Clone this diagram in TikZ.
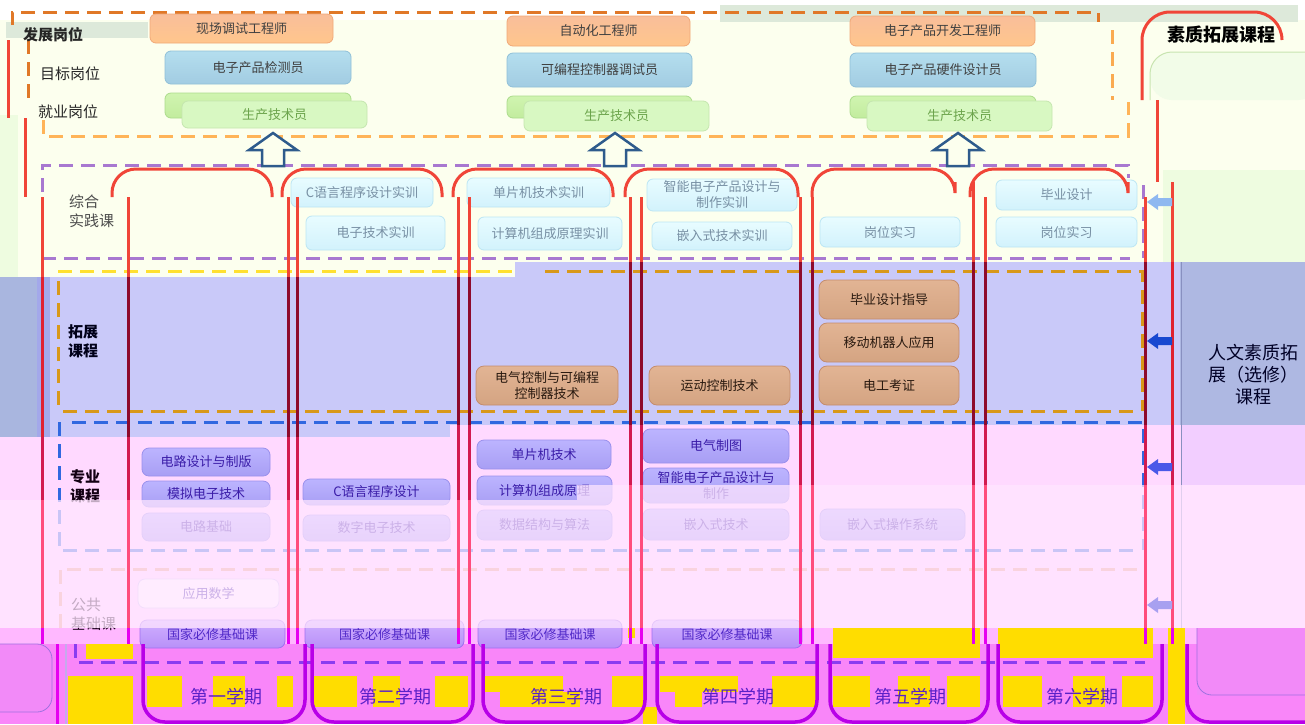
\documentclass[tikz,border=0pt]{standalone}
\usepackage{fontspec}
\setmainfont{Noto Sans CJK SC}
\definecolor{cCream}{HTML}{FCFFEE}
\definecolor{cGreenL}{HTML}{EEFCE0}
\definecolor{cGrayG}{HTML}{DDE9DA}
\definecolor{cLav}{HTML}{C9C9F9}
\definecolor{cLavL}{HTML}{A9B6DF}
\definecolor{cLavM}{HTML}{A3A8EA}
\definecolor{cLavR}{HTML}{AEB8E2}
\definecolor{cLavRd}{HTML}{8890C0}
\definecolor{cPinkB}{HTML}{FFD9FF}
\definecolor{cPinkR2}{HTML}{F2CEFF}
\definecolor{cOver}{HTML}{FFE6FF}
\definecolor{cStrip}{HTML}{FFB8FF}
\definecolor{cMagBg}{HTML}{F986F9}
\definecolor{cYel}{HTML}{FFDD00}
\definecolor{cRed}{HTML}{F04538}
\definecolor{cRedD}{HTML}{E02030}
\definecolor{cMaroon}{HTML}{8E0A2C}
\definecolor{cRose}{HTML}{D21A50}
\definecolor{cPinkR}{HTML}{FF4C7C}
\definecolor{cMagL}{HTML}{E600F0}
\definecolor{cSemBot}{HTML}{B800E8}
\definecolor{cOrD}{HTML}{E07828}
\definecolor{cOrL}{HTML}{FFB458}
\definecolor{cPur}{HTML}{A878D0}
\definecolor{cGold}{HTML}{D8981A}
\definecolor{cYelD}{HTML}{FFE030}
\definecolor{cBlueD}{HTML}{3068E0}
\definecolor{cPeach}{HTML}{E8A080}
\definecolor{cViol}{HTML}{8A3CF0}
\definecolor{cArr}{HTML}{2E5B8C}
\definecolor{cJobOt}{HTML}{F9BE9A}
\definecolor{cJobOb}{HTML}{FFC68C}
\definecolor{cJobOd}{HTML}{F0A878}
\definecolor{cJobBt}{HTML}{B4DEEE}
\definecolor{cJobBb}{HTML}{A2CCE2}
\definecolor{cJobBd}{HTML}{90C0D8}
\definecolor{cJobGt}{HTML}{D0F4B0}
\definecolor{cJobGb}{HTML}{C2EC9E}
\definecolor{cJobGd}{HTML}{ACDC8C}
\definecolor{cJobGl}{HTML}{D8F8C2}
\definecolor{cJobT}{HTML}{404040}
\definecolor{cJobGT}{HTML}{6CA44C}
\definecolor{cPrT}{HTML}{E8FCFF}
\definecolor{cPrB}{HTML}{D2F2FC}
\definecolor{cPrD}{HTML}{BCE6F4}
\definecolor{cPrX}{HTML}{7890A4}
\definecolor{cExT}{HTML}{E2B494}
\definecolor{cExB}{HTML}{D4A482}
\definecolor{cExD}{HTML}{C48C6C}
\definecolor{cExX}{HTML}{2A1A10}
\definecolor{cPoT}{HTML}{BCB4FF}
\definecolor{cPoB}{HTML}{A89EF4}
\definecolor{cPoD}{HTML}{9A90EC}
\definecolor{cPoX}{HTML}{3A1CA8}
\definecolor{cPuT}{HTML}{D0B0FF}
\definecolor{cPuB}{HTML}{B890F8}
\definecolor{cPuD}{HTML}{A070F0}
\definecolor{cPuX}{HTML}{5028C8}
\definecolor{cSem}{HTML}{5A20C8}
\definecolor{cArrA}{HTML}{8EB8F0}
\definecolor{cArrB}{HTML}{1848D0}
\definecolor{cArrC}{HTML}{4A58E8}
\definecolor{cArrD}{HTML}{A8A0F0}
\definecolor{cInG}{HTML}{F2FCE8}
\definecolor{cInGd}{HTML}{C8E4B0}
\definecolor{cLBox}{HTML}{F28AF8}
\definecolor{cLBoxD}{HTML}{A070E0}

\tikzset{
  base/.style={rounded corners=6pt, line width=0.8pt, inner sep=0pt, align=center,
    font=\fontsize{13}{16}\selectfont},
  jobO/.style={base, top color=cJobOt, bottom color=cJobOb, draw=cJobOd, text=cJobT},
  jobB/.style={base, top color=cJobBt, bottom color=cJobBb, draw=cJobBd, text=cJobT},
  jobG/.style={base, top color=cJobGt, bottom color=cJobGb, draw=cJobGd},
  jobGl/.style={base, fill=cJobGl, draw=cJobGd!70, text=cJobGT},
  prac/.style={base, top color=cPrT, bottom color=cPrB, draw=cPrD, text=cPrX},
  ext/.style={base, rounded corners=8pt, top color=cExT, bottom color=cExB, draw=cExD, text=cExX},
  pro/.style={base, rounded corners=7pt, top color=cPoT, bottom color=cPoB, draw=cPoD, text=cPoX},
  pub/.style={base, rounded corners=7pt, top color=cPuT, bottom color=cPuB, draw=cPuD, text=cPuX},
  pubw/.style={base, rounded corners=7pt, fill=white, draw=cPoD!50, text=cPoX},
  dsh/.style={line width=3pt, dash pattern=on 14pt off 8pt},
  semtop/.style={line width=3pt, rounded corners=24pt, draw=cRed},
  sembot/.style={line width=3.5pt, rounded corners=22pt, draw=cSemBot},
  vl/.style={line width=3pt},
  arrowst/.style={line width=2.5pt, draw=cArr, fill=cCream, line join=miter},
  lab/.style={anchor=west, align=left, inner sep=0pt, font=\fontsize{15}{19}\selectfont},
  semlab/.style={inner sep=0pt, text=cSem, font=\fontsize{18}{20}\selectfont},
}
\newcommand\bx[7]{%
  \pgfmathsetmacro\bw{#5-#3}\pgfmathsetmacro\bh{#6-#4}%
  \pgfmathsetmacro\bcx{(#3+#5)/2}\pgfmathsetmacro\bcy{(#4+#6)/2}%
  \node[#2, minimum width=\bw pt, minimum height=\bh pt] (#1) at (\bcx,\bcy) {#7};}
\newcommand\myUpArr[1]{\draw[arrowst] (#1-11,166) -- (#1-11,150) -- (#1-24,150) -- (#1,133) -- (#1+24,150) -- (#1+11,150) -- (#1+11,166) -- cycle;}
\newcommand\myLArr[2]{\fill[#2] (1147,#1) -- (1158,#1-8) -- (1158,#1-4) -- (1172,#1-4) -- (1172,#1+4) -- (1158,#1+4) -- (1158,#1+8) -- cycle;}

\begin{document}
\begin{tikzpicture}[x=1pt,y=-1pt]
\useasboundingbox (0,0) rectangle (1305,724);
% ---------- backgrounds ----------
\fill[white] (0,0) rectangle (1305,724);
\fill[cCream] (0,20) rectangle (1305,277);
\fill[cGrayG] (6,22) rectangle (148,38);
\fill[cGrayG] (720,5) rectangle (1298,22);
\fill[cGreenL] (0,115) rectangle (18,277);
\fill[cGreenL] (1163,170) rectangle (1305,262);
\fill[cLav] (50,277) rectangle (450,437);
\fill[cLav] (450,277) rectangle (515,425);
\fill[cLav] (515,262) rectangle (1180,425);
\fill[cLavL] (0,277) rectangle (37,437);
\fill[cLavM] (37,277) rectangle (50,437);
\fill[cLavR] (1180,262) rectangle (1305,425);
\fill[cPinkB] (0,437) rectangle (450,628);
\fill[cPinkB] (450,425) rectangle (1305,628);
\fill[cPinkR2] (1182,425) rectangle (1305,485);
\fill[cStrip] (0,628) rectangle (1305,644);
\fill[cMagBg] (0,644) rectangle (1305,724);
% yellow blocks
\foreach \a/\b/\c/\d in {86/644/133/659, 68/676/133/724, 147/676/182/707, 213/676/245/707,
  277/676/293/707, 312/676/357/707, 373/676/400/707, 435/676/468/707, 483/676/563/692,
  500/692/580/707, 612/676/643/707, 643/707/657/724, 628/628/635/638, 660/676/738/692,
  675/692/702/707, 772/676/818/707, 833/628/870/658, 833/676/870/707, 870/628/980/658,
  998/628/1153/658, 1168/628/1185/724, 898/676/930/707, 947/676/980/707, 1003/676/1042/707,
  1073/676/1105/707, 1122/676/1153/707}
  {\fill[cYel] (\a,\b) rectangle (\c,\d);}
% bottom side boxes
\draw[fill=cLBox, draw=cLBoxD, line width=0.8pt, rounded corners=15pt] (-5,644) -- (52,644) -- (52,712) -- (-5,712);
\fill[cLBox] (1197,628) rectangle (1310,695);
\draw[cLBoxD, line width=0.8pt, rounded corners=15pt] (1197,628) -- (1197,695) -- (1310,695);
% right column separator
\draw[cLavRd, line width=1pt] (1181,262) -- (1181,628);
% inner green box of right panel
\fill[cInG, rounded corners=22pt] (1150,100) -- (1150,52) -- (1320,52) -- (1320,100) -- cycle;
\draw[cInGd, line width=1pt, rounded corners=22pt] (1150,100) -- (1150,52) -- (1320,52);

% ---------- dashed frames ----------
\draw[dsh, cOrD] (12,25) -- (12,12) -- (1098,12) -- (1098,22);
\draw[dsh, cOrD] (28,40) -- (28,100);
\draw[dsh, cOrL] (43,120) -- (43,136) -- (1128,136) -- (1128,102);
\draw[dsh, cOrL!85!cOrD] (1112,30) -- (1112,100);
\draw[dsh, cPur] (42,258) -- (42,165) -- (1128,165) -- (1128,178);
\draw[dsh, cPur] (42,258) -- (1130,258);
\draw[dsh, cPur] (1143,185) -- (1143,258);
\draw[dsh, cYelD] (58,271) -- (515,271);
\draw[dsh, cGold] (545,271) -- (1142,271) -- (1142,411);
\draw[dsh, cGold] (58,281) -- (58,410);
\draw[dsh, cGold] (63,411) -- (1140,411);
\draw[dsh, cBlueD] (72,422) -- (1143,422) -- (1143,550);
\draw[dsh, cBlueD] (59,422) -- (59,550) -- (1140,550);
\draw[dsh, cPeach] (60,628) -- (60,569) -- (1145,569);
\draw[dsh, cViol] (75,644) -- (75,662) -- (1145,662);

% ---------- left labels ----------
\node[lab, font=\fontsize{15}{19}\selectfont\bfseries, text=black!85] (l1) at (23,35) {发展岗位};
\node[lab, text=black!85] (l2) at (40,74) {目标岗位};
\node[lab, text=black!85] (l3) at (38,112) {就业岗位};
\node[lab, text=black!70] (l4) at (69,211) {综合\\实践课};
\node[lab, font=\fontsize{15}{19}\selectfont\bfseries, text=black!90!blue] (l5) at (68,341) {拓展\\课程};
\node[lab, font=\fontsize{15}{19}\selectfont\bfseries, text=black!85!violet] (l6) at (70,486) {专业\\课程};
\node[lab, text=black!80!violet] (l7) at (71,614) {公共\\基础课};
\node[inner sep=0pt, font=\fontsize{18}{22}\selectfont\bfseries] (r1) at (1221,35) {素质拓展课程};
\node[inner sep=0pt, align=center, text=black!85!blue, font=\fontsize{18}{22}\selectfont] (r2) at (1253,375) {人文素质拓\\展（选修）\\课程};

% ---------- job boxes ----------
\bx{j1o}{jobO}{150}{14}{333}{43}{现场调试工程师}
\bx{j1b}{jobB}{165}{51}{351}{84}{电子产品检测员}
\bx{j1g}{jobG}{165}{93}{351}{118}{}
\bx{j1l}{jobGl}{182}{101}{367}{128}{生产技术员}
\bx{j2o}{jobO}{507}{16}{690}{46}{自动化工程师}
\bx{j2b}{jobB}{507}{53}{692}{87}{可编程控制器调试员}
\bx{j2g}{jobG}{507}{96}{692}{118}{}
\bx{j2l}{jobGl}{524}{101}{709}{131}{生产技术员}
\bx{j3o}{jobO}{850}{16}{1035}{46}{电子产品开发工程师}
\bx{j3b}{jobB}{850}{53}{1036}{87}{电子产品硬件设计员}
\bx{j3g}{jobG}{850}{96}{1036}{118}{}
\bx{j3l}{jobGl}{867}{101}{1052}{131}{生产技术员}

% ---------- practice courses ----------
\bx{p1}{prac}{291}{178}{433}{207}{C语言程序设计实训}
\bx{p2}{prac}{306}{216}{445}{250}{电子技术实训}
\bx{p3}{prac}{467}{178}{610}{207}{单片机技术实训}
\bx{p4}{prac}{478}{217}{622}{250}{计算机组成原理实训}
\bx{p5}{prac}{647}{179}{797}{211}{智能电子产品设计与\\制作实训}
\bx{p6}{prac}{652}{222}{792}{250}{嵌入式技术实训}
\bx{p7}{prac}{820}{217}{960}{247}{岗位实习}
\bx{p8}{prac}{996}{180}{1137}{210}{毕业设计}
\bx{p9}{prac}{996}{217}{1137}{247}{岗位实习}

% ---------- extension courses ----------
\bx{e1}{ext}{476}{366}{618}{405}{电气控制与可编程\\控制器技术}
\bx{e2}{ext}{649}{366}{790}{405}{运动控制技术}
\bx{e3}{ext}{819}{280}{959}{319}{毕业设计指导}
\bx{e4}{ext}{819}{323}{959}{362}{移动机器人应用}
\bx{e5}{ext}{819}{366}{959}{405}{电工考证}

% ---------- professional courses ----------
\bx{k1}{pro}{142}{448}{270}{476}{电路设计与制版}
\bx{k2}{pro}{142}{481}{270}{507}{模拟电子技术}
\bx{k3}{pro}{142}{513}{270}{541}{电路基础}
\bx{k4}{pro}{303}{479}{450}{505}{C语言程序设计}
\bx{k5}{pro}{303}{515}{450}{541}{数字电子技术}
\bx{k6}{pro}{477}{440}{611}{469}{单片机技术}
\bx{k7}{pro}{477}{476}{612}{505}{计算机组成原理}
\bx{k8}{pro}{477}{510}{612}{540}{数据结构与算法}
\bx{k9}{pro}{643}{429}{789}{463}{电气制图}
\bx{k10}{pro}{643}{468}{789}{503}{智能电子产品设计与\\制作}
\bx{k11}{pro}{643}{509}{789}{540}{嵌入式技术}
\bx{k12}{pro}{820}{509}{965}{540}{嵌入式操作系统}

% ---------- public courses ----------
\bx{u0}{pubw}{138}{579}{279}{608}{应用数学}
\bx{u1}{pub}{140}{620}{285}{648}{国家必修基础课}
\bx{u2}{pub}{305}{620}{464}{648}{国家必修基础课}
\bx{u3}{pub}{478}{620}{622}{648}{国家必修基础课}
\bx{u4}{pub}{652}{620}{802}{648}{国家必修基础课}

% ---------- faded overlay ----------
\fill[cOver, opacity=0.74] (0,500) rectangle (577,628);
\fill[cOver, opacity=0.74] (577,485) rectangle (1305,628);

% ---------- semester columns ----------
\draw[semtop] (112,197) -- (112,169) -- (272,169) -- (272,197);
\draw[semtop] (282,197) -- (282,169) -- (442,169) -- (442,197);
\draw[semtop] (453,197) -- (453,169) -- (613,169) -- (613,197);
\draw[semtop] (625,197) -- (625,169) -- (798,169) -- (798,197);
\draw[semtop] (812,197) -- (812,169) -- (955,169) -- (955,182);
\draw[semtop] (970,197) -- (970,169) -- (1128,169) -- (1128,182);
\foreach \x/\a/\b/\c/\m in {42/277/437/500/cRedD, 128/277/437/500/cMaroon, 288/277/437/500/cMaroon,
   297/277/437/500/cMaroon, 458/277/425/500/cMaroon, 469/277/425/500/cMaroon,
   630/262/425/485/cMaroon, 641/262/425/485/cMaroon, 800/262/425/485/cMaroon,
   812/262/425/485/cMaroon, 973/262/425/485/cMaroon, 985/262/425/485/cMaroon,
   1145/262/425/485/cMaroon, 1172/262/425/485/cRedD}{
  \draw[vl, cRed] (\x,197) -- (\x,\a);
  \draw[vl, \m] (\x,\a) -- (\x,\b);
  \draw[vl, cRose] (\x,\b) -- (\x,\c);
  \draw[vl, cPinkR] (\x,\c) -- (\x,628);
  \draw[vl, cMagL] (\x,628) -- (\x,644);
}
\draw[vl, cRed] (973,182) -- (973,197);
\draw[vl, cRed] (1172,182) -- (1172,197);
\draw[vl, cRed] (8,40) -- (8,118);
\draw[vl, cRed] (25,118) -- (25,197);
\draw[semtop, rounded corners=28pt] (1142,100) -- (1142,12) -- (1282,12) -- (1282,40);
\draw[vl, cRed] (1157,100) -- (1157,182);
% bottoms
\draw[vl, cMagL] (57,644) -- (57,724);
\draw[line width=2pt, cLBoxD!60] (66,644) -- (66,724);
\draw[sembot] (143,644) -- (143,722) -- (305,722) -- (305,644);
\draw[sembot] (312,644) -- (312,722) -- (473,722) -- (473,644);
\draw[sembot] (483,644) -- (483,722) -- (645,722) -- (645,644);
\draw[sembot] (657,644) -- (657,722) -- (817,722) -- (817,644);
\draw[sembot] (830,644) -- (830,722) -- (988,722) -- (988,644);
\draw[sembot] (998,644) -- (998,722) -- (1162,722) -- (1162,644);
\draw[sembot] (1187,644) -- (1187,722) -- (1330,722);

% ---------- arrows ----------
\myUpArr{273}
\myUpArr{615}
\myUpArr{958}
\myLArr{202}{cArrA}
\myLArr{341}{cArrB}
\myLArr{467}{cArrC}
\myLArr{605}{cArrD}

% ---------- semester labels ----------
\node[semlab] (s1) at (226,697) {第一学期};
\node[semlab] (s2) at (395,697) {第二学期};
\node[semlab] (s3) at (566,697) {第三学期};
\node[semlab] (s4) at (738,697) {第四学期};
\node[semlab] (s5) at (910,697) {第五学期};
\node[semlab] (s6) at (1082,697) {第六学期};
\end{tikzpicture}
\end{document}
